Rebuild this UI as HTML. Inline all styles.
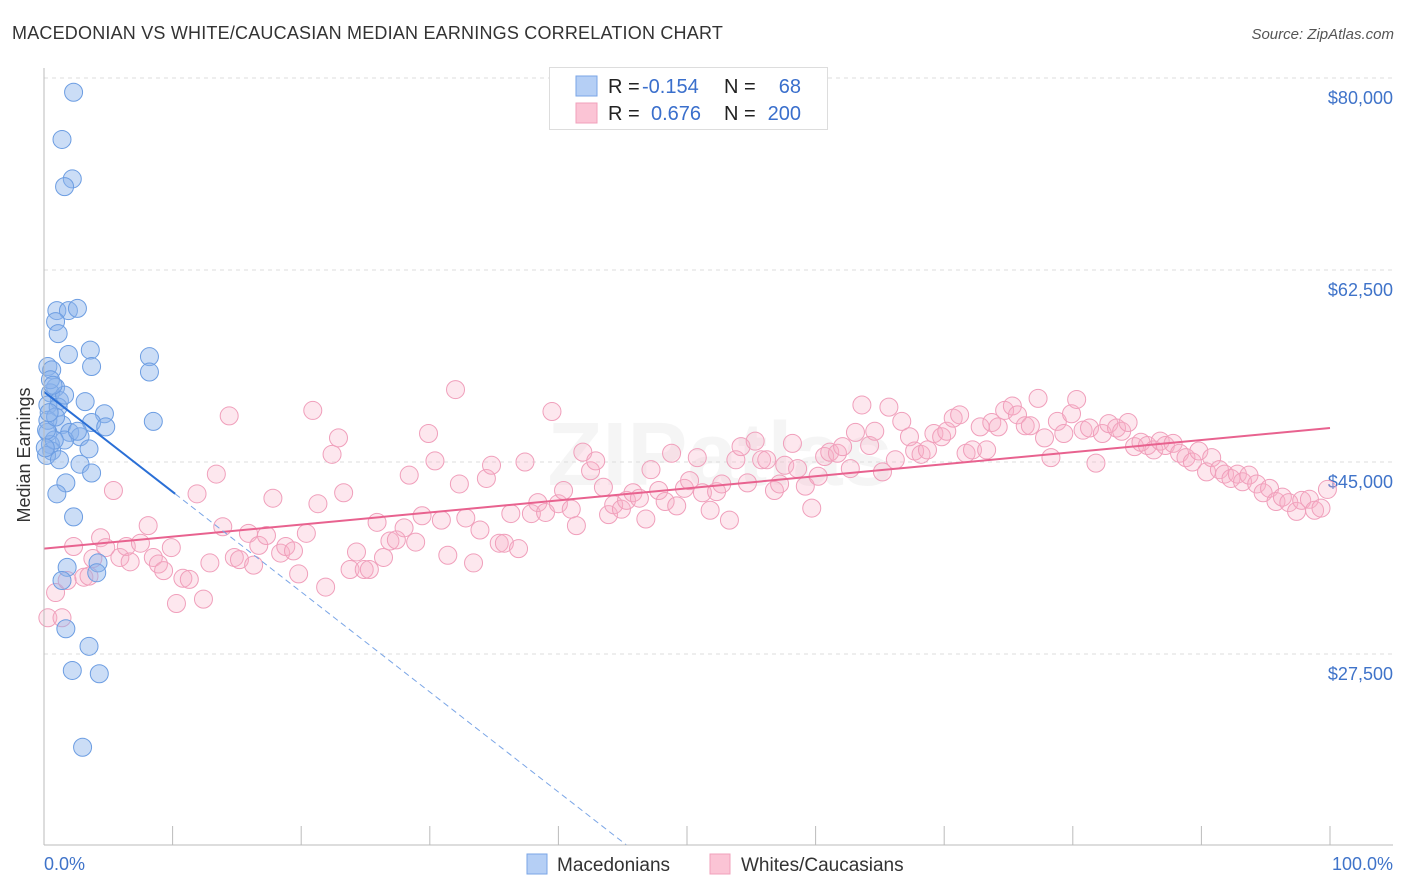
<!DOCTYPE html>
<html><head><meta charset="utf-8"><style>
body{margin:0;background:#fff;font-family:"Liberation Sans",sans-serif;}
#wrap{position:relative;width:1406px;height:892px;overflow:hidden;}
</style></head><body>
<div id="wrap">
<svg id="svg" width="1406" height="892" xmlns="http://www.w3.org/2000/svg">
<text x="12" y="39" font-size="18" fill="#333" letter-spacing="0.2">MACEDONIAN VS WHITE/CAUCASIAN MEDIAN EARNINGS CORRELATION CHART</text>
<text x="1394" y="39" font-size="15" fill="#555" font-style="italic" text-anchor="end">Source: ZipAtlas.com</text>
<text x="30" y="455" font-size="18" fill="#333" text-anchor="middle" transform="rotate(-90 30 455)">Median Earnings</text>
<text x="720" y="485" font-size="90" font-weight="bold" fill="#000" fill-opacity="0.04" text-anchor="middle">ZIPatlas</text>
<g id="grid"></g><g id="pink"></g><g id="blue"></g><g id="trend"></g><g id="axes"></g>
<g>
<rect x="549.5" y="67.5" width="278" height="62" fill="#fff" stroke="#ddd"/>
<rect x="576" y="76" width="21" height="20" fill="#b5cff5" stroke="#7aa5e6"/>
<rect x="576" y="103" width="21" height="20" fill="#fbc4d5" stroke="#f0a0bb"/>
<text x="608" y="93" font-size="20" fill="#222">R =</text><text x="642" y="93" font-size="20" fill="#3a6fcc">-0.154</text>
<text x="724" y="93" font-size="20" fill="#222">N =</text><text x="801" y="93" font-size="20" fill="#3a6fcc" text-anchor="end">68</text>
<text x="608" y="120" font-size="20" fill="#222">R =</text><text x="651" y="120" font-size="20" fill="#3a6fcc">0.676</text>
<text x="724" y="120" font-size="20" fill="#222">N =</text><text x="801" y="120" font-size="20" fill="#3a6fcc" text-anchor="end">200</text>
</g>
<g>
<rect x="527" y="854" width="20" height="20" fill="#b5cff5" stroke="#7aa5e6"/>
<text x="557" y="871" font-size="19" fill="#333">Macedonians</text>
<rect x="710" y="854" width="20" height="20" fill="#fbc4d5" stroke="#f0a0bb"/>
<text x="741" y="871" font-size="19" fill="#333">Whites/Caucasians</text>
</g>
<text x="44" y="870" font-size="18" fill="#3f73c9">0.0%</text>
<text x="1393" y="870" font-size="18" fill="#3f73c9" text-anchor="end">100.0%</text>
</svg>
</div>
<script>
const yTicks=[80000,62500,45000,27500];
const yTickLabels=["$80,000","$62,500","$45,000","$27,500"];
const xTicks=[0,10,20,30,40,50,60,70,80,90,100];
const blueX=[2.3,1.4,2.2,1.6,1.0,1.9,2.6,0.9,1.1,3.6,1.9,8.2,8.2,0.3,0.6,3.7,0.9,0.5,1.2,3.2,0.3,1.1,4.7,8.5,3.7,1.4,4.8,0.3,2.0,2.8,1.6,0.5,3.5,0.6,0.2,2.8,3.7,1.7,1.0,2.3,1.8,4.2,4.1,1.4,1.7,3.5,2.2,4.3,3.0,0.3,0.8,1.2,0.5,0.2,0.9,1.6,2.6,0.1,0.7,0.4];
const blueY=[78.7,74.4,70.8,70.1,58.8,58.8,59.0,57.8,56.7,55.2,54.8,54.6,53.2,53.7,53.4,53.7,51.8,51.3,50.6,50.5,50.2,50.0,49.4,48.7,48.6,48.4,48.2,47.7,47.7,47.3,47.0,46.6,46.2,46.0,45.6,44.8,44.0,43.1,42.1,40.0,35.4,35.8,34.9,34.2,29.8,28.2,26.0,25.7,19.0,48.8,47.0,45.2,52.5,47.9,49.1,51.1,47.8,46.3,52.0,49.5];
const pinkX=[0.3,0.9,1.4,2.3,1.8,3.1,3.5,4.4,3.8,5.4,4.8,5.9,6.4,6.7,8.1,7.5,8.5,8.9,9.3,9.9,10.3,10.8,11.3,11.9,12.4,12.9,13.4,13.9,14.4,14.8,15.2,15.9,16.3,16.7,17.3,17.8,18.4,18.8,19.4,19.8,20.4,20.9,21.3,21.9,22.4,22.9,23.3,23.8,24.3,24.9,25.3,25.9,26.4,26.9,27.4,28.0,28.4,28.9,29.4,29.9,30.4,30.9,31.4,32.0,32.3,32.8,33.4,33.9,34.4,34.8,35.4,35.8,36.3,36.9,37.4,37.9,38.4,39.0,39.5,40.0,40.4,41.0,41.4,41.9,42.5,42.9,43.5,43.9,44.3,44.9,45.3,45.8,46.3,46.8,47.2,47.8,48.3,48.8,49.2,49.8,50.2,50.8,51.2,51.8,52.3,52.7,53.3,53.8,54.2,54.7,55.3,55.8,56.2,56.8,57.2,57.6,58.2,58.6,59.2,59.7,60.2,60.7,61.1,61.7,62.1,62.7,63.1,63.6,64.2,64.6,65.2,65.7,66.2,66.7,67.3,67.7,68.2,68.7,69.2,69.8,70.2,70.7,71.2,71.7,72.2,72.8,73.3,73.7,74.2,74.7,75.3,75.7,76.3,76.7,77.3,77.8,78.3,78.8,79.3,79.9,80.3,80.8,81.3,81.8,82.3,82.8,83.4,83.8,84.3,84.8,85.3,85.8,86.3,86.8,87.2,87.8,88.3,88.8,89.3,89.8,90.4,90.8,91.4,91.8,92.3,92.8,93.2,93.7,94.3,94.8,95.3,95.8,96.3,96.8,97.4,97.8,98.4,98.8,99.3,99.8];
const pinkY=[30.8,33.1,30.8,37.3,34.2,34.5,34.6,38.1,36.2,42.4,37.2,36.3,37.3,35.9,39.2,37.6,36.3,35.7,35.1,37.2,32.1,34.4,34.3,42.1,32.5,35.8,43.9,39.1,49.2,36.3,36.1,38.5,35.6,37.4,38.3,41.7,36.7,37.3,36.9,34.8,38.5,49.7,41.2,33.6,45.7,47.2,42.2,35.2,36.8,35.2,35.2,39.5,36.3,37.8,37.9,39.0,43.8,37.7,40.1,47.6,45.1,39.7,36.5,51.6,43.0,39.9,35.8,38.8,43.5,44.7,37.6,37.6,40.3,37.1,45.0,40.3,41.3,40.4,49.6,41.2,42.4,40.7,39.2,45.9,44.2,45.1,42.7,40.2,41.1,40.7,41.5,42.2,41.7,39.8,44.3,42.4,41.4,45.8,41.0,42.6,43.3,45.4,42.2,40.6,42.3,43.0,39.7,45.2,46.4,43.1,46.9,45.2,45.2,42.4,43.0,44.7,46.7,44.4,42.8,40.8,43.7,45.5,45.9,45.8,46.4,44.4,47.7,50.2,46.5,47.8,44.1,50.0,45.2,48.7,47.3,46.0,45.7,46.1,47.6,47.3,47.8,49.0,49.3,45.8,46.1,48.2,46.1,48.6,48.2,49.7,50.1,49.3,48.3,48.3,50.8,47.2,45.4,48.7,47.6,49.4,50.7,47.9,48.1,44.9,47.6,48.5,48.1,47.8,48.6,46.4,46.8,46.5,46.1,46.9,46.5,46.7,45.8,45.4,45.0,46.0,44.1,45.4,44.3,43.9,43.5,43.9,43.2,43.8,43.0,42.2,42.6,41.4,41.8,41.3,40.5,41.5,41.6,40.6,40.8,42.5];
const blueTrend=[51.4,-0.912];   // intercept (k$), slope per %
const pinkTrend=[37.1,48.1];     // value at 0% and 100% (k$)
const NS="http://www.w3.org/2000/svg";
const X=p=>44+p*12.86;
const Y=v=>78+(80-v)*192/17.5;
function mk(t,a,parent){const e=document.createElementNS(NS,t);for(const k in a)e.setAttribute(k,a[k]);document.getElementById(parent).appendChild(e);return e;}
yTicks.forEach((t,i)=>{
 const y=Y(t/1000);
 const g=mk('line',{x1:44,x2:1393,y1:y,y2:y,stroke:'#ddd','stroke-dasharray':'4 4'},'grid');
 
 
 const tx=mk('text',{x:1393,y:y+26,'font-size':18,fill:'#3f73c9','text-anchor':'end'},'grid');
 tx.textContent=yTickLabels[i];
 
 
});
const ax=mk('line',{x1:44,x2:1393,y1:845,y2:845,stroke:'#bbb'},'axes');


const ay=mk('line',{x1:44,x2:44,y1:68,y2:845,stroke:'#bbb'},'axes');


xTicks.forEach(t=>{
 const l=mk('line',{x1:X(t),x2:X(t),y1:826,y2:845,stroke:'#bbb'},'axes');
 
 
});
pinkX.forEach((x,i)=>{
 const c=mk('circle',{cx:X(x),cy:Y(pinkY[i]),r:9,fill:'rgba(248,175,200,0.3)',stroke:'#f09fbb','stroke-width':1},'pink');
 
 
});
blueX.forEach((x,i)=>{
 const c=mk('circle',{cx:X(x),cy:Y(blueY[i]),r:9,fill:'rgba(140,180,235,0.45)',stroke:'#6c9de2','stroke-width':1},'blue');
 
 
});
const pt=mk('line',{x1:X(0),y1:Y(pinkTrend[0]),x2:X(100),y2:Y(pinkTrend[1]),stroke:'#e8628f','stroke-width':2},'trend');


const bEnd=10.2, bZero=(blueTrend[0]-10.1)/(-blueTrend[1]);
const bt=mk('line',{x1:X(0),y1:Y(blueTrend[0]),x2:X(bEnd),y2:Y(blueTrend[0]+blueTrend[1]*bEnd),stroke:'#2a6fd6','stroke-width':2},'trend');


const bd=mk('line',{x1:X(bEnd),y1:Y(blueTrend[0]+blueTrend[1]*bEnd),x2:X(bZero),y2:Y(blueTrend[0]+blueTrend[1]*bZero),stroke:'#7aa5e6','stroke-width':1,'stroke-dasharray':'6 4'},'trend');


</script>
</body></html>
